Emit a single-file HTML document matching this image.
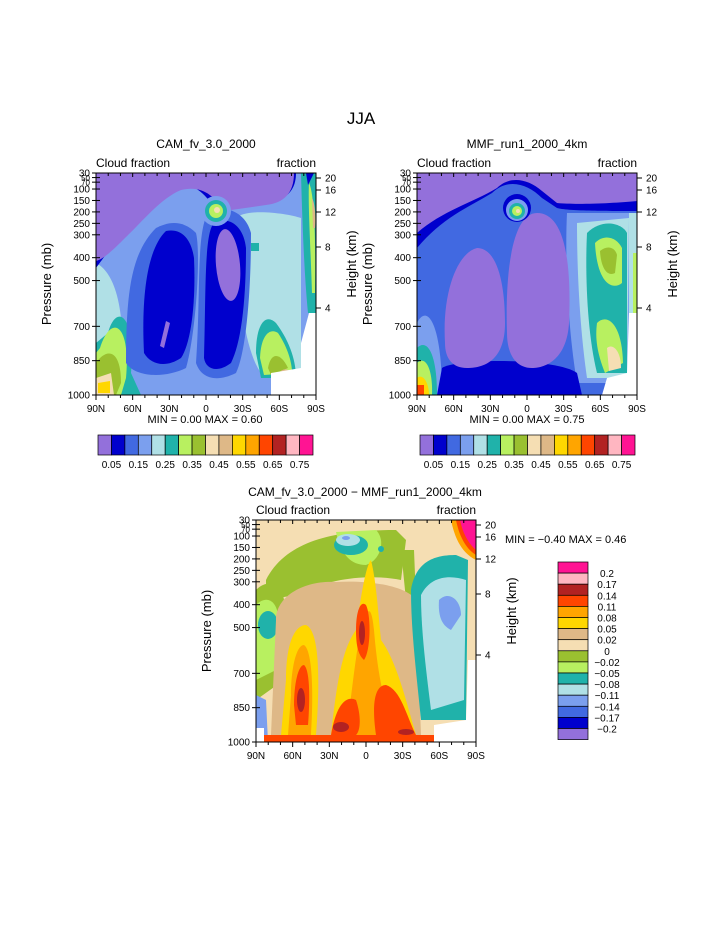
<!DOCTYPE html>
<html><head><meta charset="utf-8"><style>
body{margin:0;background:#fff}
svg{display:block}
text{font-family:"Liberation Sans",sans-serif;fill:#000}
</style></head><body>
<svg id="s" width="723" height="935" viewBox="0 0 723 935" xmlns="http://www.w3.org/2000/svg">
<text x="361" y="124" font-size="17" text-anchor="middle">JJA</text>
<text x="206" y="148" font-size="12" text-anchor="middle">CAM_fv_3.0_2000</text>
<text x="527" y="148" font-size="12" text-anchor="middle">MMF_run1_2000_4km</text>
<text x="365" y="496" font-size="12" text-anchor="middle">CAM_fv_3.0_2000 − MMF_run1_2000_4km</text>

<!-- Plot 1 -->
<g transform="translate(96,173)">
<rect width="220" height="222" fill="#7b9fee"/>
<path d="M140,45 C150,35 190,40 205,45 L205,200 L165,200 C150,180 140,120 140,45Z" fill="#b0e0e6"/>
<path d="M0,90 C20,100 30,140 25,200 L0,200Z" fill="#b0e0e6"/>
<path d="M12,160 C20,130 40,140 35,200 L45,222 L0,222 L0,170Z" fill="#20b2aa"/>
<path d="M4,175 C15,140 35,150 30,205 L25,222 L0,222 L0,180Z" fill="#b8f060"/>
<path d="M0,190 C10,175 25,175 25,210 L20,222 L0,222Z" fill="#9ac030"/>
<path d="M0,205 L15,200 L18,222 L0,222Z" fill="#f5deb3"/>
<path d="M2,210 L14,208 L14,220 L2,220Z" fill="#ffd700"/>
<path d="M160,180 C160,150 170,140 180,150 C195,170 200,190 200,205 L165,205Z" fill="#20b2aa"/>
<path d="M164,185 C165,160 175,155 182,160 C192,175 196,190 196,200 L168,202Z" fill="#b8f060"/>
<path d="M172,195 C175,178 185,180 192,195 L175,202Z" fill="#9ac030"/>
<path d="M180,205 C185,192 196,195 197,205Z" fill="#deb887"/>
<rect x="155" y="70" width="8" height="8" fill="#20b2aa"/>
<path d="M0,0 H200 C200,25 180,30 160,33 L120,38 C110,20 95,8 80,12 C60,20 40,45 25,60 C15,75 5,88 0,95Z" fill="#0000cd"/>
<path d="M30,190 C30,120 35,80 60,55 C70,50 85,45 100,60 C105,80 100,160 90,195 C70,205 40,205 30,190Z" fill="#4169e1"/>
<path d="M100,190 C105,120 100,60 112,40 C130,30 150,40 155,60 C155,120 150,180 140,200 C120,210 105,205 100,190Z" fill="#4169e1"/>
<path d="M48,180 C45,120 52,75 70,58 C85,55 95,65 98,85 C100,130 95,170 85,185 C70,195 55,192 48,180Z" fill="#0000cd"/>
<path d="M108,185 C110,120 108,60 118,50 C135,42 148,55 150,75 C150,130 145,170 135,190 C122,200 110,197 108,185Z" fill="#0000cd"/>
<path d="M0,0 H198 C198,20 188,30 170,32 L128,38 C118,22 105,12 85,17 C65,25 45,50 30,64 C18,76 8,86 0,88Z" fill="#9370db"/>
<ellipse cx="132" cy="92" rx="12" ry="36" transform="rotate(-5 132 92)" fill="#9370db"/>
<path d="M64,173 L70,148 L74,150 L68,175Z" fill="#9370db"/>
<circle cx="120" cy="38" r="15" fill="#7b9fee"/>
<circle cx="120" cy="38" r="11" fill="#20b2aa"/>
<circle cx="120" cy="38" r="7" fill="#b8f060"/>
<circle cx="121" cy="37" r="3" fill="#f5deb3"/>
<path d="M205,0 H220 V140 H212 C208,100 206,40 205,0Z" fill="#20b2aa"/>
<path d="M213,10 C218,20 220,60 219,120 L216,120 C214,60 212,30 213,10Z" fill="#b8f060"/>
<path d="M216,25 C219,30 220,45 219,55 L217,55Z" fill="#deb887"/>
<path d="M210,0 L218,0 L212,12Z" fill="#0000cd"/>
<path d="M213,140 H220 V222 H175 L175,200 L205,195 L205,170 Z" fill="#fff"/>
</g>

<!-- Plot 2 -->
<g transform="translate(417,173)">
<rect width="220" height="222" fill="#4169e1"/>
<path d="M150,40 L220,40 L220,210 L160,210 C150,150 148,80 150,40Z" fill="#7b9fee"/>
<path d="M160,50 L212,45 L210,205 L170,205 C162,150 160,90 160,50Z" fill="#b0e0e6"/>
<path d="M170,60 C185,45 205,50 210,60 L210,200 L180,200 C170,160 168,100 170,60Z" fill="#20b2aa"/>
<path d="M178,70 C188,60 200,65 205,75 L205,110 C195,118 180,110 178,70Z" fill="#b8f060"/>
<path d="M183,78 C190,72 198,74 200,82 L198,100 C190,104 184,95 183,78Z" fill="#9ac030"/>
<path d="M180,150 C190,140 205,150 206,190 L188,200 C180,180 178,165 180,150Z" fill="#b8f060"/>
<path d="M190,175 C196,170 204,178 204,195 L192,198Z" fill="#f5deb3"/>
<path d="M0,150 C10,130 25,150 25,222 L0,222Z" fill="#7b9fee"/>
<path d="M0,175 C10,165 20,180 20,222 L0,222Z" fill="#20b2aa"/>
<path d="M0,190 C8,182 16,195 15,222 L0,222Z" fill="#b8f060"/>
<path d="M0,205 C6,200 12,210 12,222 L0,222Z" fill="#ffd700"/>
<path d="M0,212 L7,212 L7,222 L0,222Z" fill="#ff4500"/>
<path d="M0,0 H220 V38 C190,38 150,38 140,35 L125,25 C110,10 90,5 75,20 C50,35 25,45 0,75Z" fill="#0000cd"/>
<path d="M25,195 C40,185 140,185 160,200 L165,222 L20,222Z" fill="#0000cd"/>
<path d="M28,170 C25,120 40,80 60,75 C80,75 88,110 88,150 C88,185 70,195 50,195 C35,195 28,185 28,170Z" fill="#9370db"/>
<path d="M90,160 C88,100 95,40 120,40 C145,40 155,80 152,150 C150,185 130,195 115,195 C98,195 90,180 90,160Z" fill="#9370db"/>
<path d="M0,0 H220 V28 C200,30 160,32 140,30 L125,18 C110,5 92,3 80,15 C55,30 25,38 0,60Z" fill="#9370db"/>
<circle cx="100" cy="35" r="14" fill="#0000cd"/>
<circle cx="100" cy="37" r="11" fill="#7b9fee"/>
<circle cx="100" cy="38" r="8" fill="#20b2aa"/>
<circle cx="100" cy="38" r="5" fill="#b8f060"/>
<circle cx="101" cy="38" r="2" fill="#f5deb3"/>
<path d="M212,40 L220,40 L220,222 L212,222Z" fill="#b0e0e6"/>
<path d="M216,80 L220,80 L220,150 L216,150Z" fill="#b8f060"/>
<path d="M190,205 L210,200 L212,140 L220,140 L220,222 L185,222Z" fill="#fff"/>
</g>

<!-- Plot 3 -->
<g transform="translate(256,520)">
<rect width="220" height="222" fill="#f5deb3"/>
<path d="M10,60 C30,20 80,10 140,10 L150,20 L145,60 C120,55 80,55 40,75 L10,80Z" fill="#9ac030"/>
<path d="M80,12 L120,10 C130,20 125,40 110,45 C95,45 85,35 80,12Z" fill="#b8f060"/>
<ellipse cx="95" cy="25" rx="17" ry="10" fill="#20b2aa"/>
<ellipse cx="92" cy="20" rx="12" ry="6" fill="#b0e0e6"/>
<ellipse cx="90" cy="18" rx="4" ry="2" fill="#7b9fee"/>
<circle cx="125" cy="29" r="3" fill="#20b2aa"/>
<path d="M145,30 L158,30 L160,80 L150,80Z" fill="#9ac030"/>
<path d="M0,70 C10,60 25,60 28,80 L28,160 L0,180Z" fill="#9ac030"/>
<path d="M0,85 C10,75 20,80 22,95 L20,150 L0,160Z" fill="#b8f060"/>
<ellipse cx="12" cy="105" rx="10" ry="14" fill="#20b2aa"/>
<path d="M0,175 L10,180 L12,222 L0,222Z" fill="#7b9fee"/>
<path d="M20,100 C20,75 50,60 80,62 C110,60 150,65 160,80 L165,215 L15,215Z" fill="#deb887"/>
<path d="M30,160 C30,120 40,105 50,105 C62,110 65,150 60,215 L25,215Z" fill="#ffd700"/>
<path d="M35,175 C35,150 40,125 48,125 C56,130 58,170 55,215 L32,215Z" fill="#ffa500"/>
<path d="M38,185 C38,165 42,145 48,145 C54,150 54,180 52,205 L40,205Z" fill="#ff4500"/>
<ellipse cx="45" cy="180" rx="4" ry="12" fill="#b22222"/>
<path d="M75,215 C80,170 85,130 100,110 C105,75 110,45 115,40 C120,60 122,90 125,120 C140,140 150,180 160,215Z" fill="#ffd700"/>
<path d="M90,215 C95,180 100,130 105,110 C110,90 115,80 118,110 C122,160 130,190 140,215Z" fill="#ffa500"/>
<path d="M100,110 C100,90 105,80 110,85 C115,95 115,130 108,140 C102,135 100,125 100,110Z" fill="#ff4500"/>
<ellipse cx="106" cy="113" rx="3" ry="12" fill="#b22222"/>
<path d="M75,215 C80,185 90,175 100,180 C105,195 105,210 100,215Z" fill="#ff4500"/>
<path d="M120,215 C115,180 120,165 130,165 C145,170 150,195 160,215Z" fill="#ff4500"/>
<ellipse cx="85" cy="207" rx="8" ry="5" fill="#b22222"/>
<ellipse cx="150" cy="212" rx="8" ry="3" fill="#b22222"/>
<path d="M0,215 H180 V222 H0Z" fill="#ff4500"/>
<path d="M155,70 C160,40 180,35 200,35 L212,40 L210,200 L165,200 C160,150 155,110 155,70Z" fill="#20b2aa"/>
<path d="M165,75 C175,55 195,55 210,60 L208,180 L175,190 C170,150 165,110 165,75Z" fill="#b0e0e6"/>
<path d="M183,80 C193,70 205,80 205,95 L195,110 C185,105 182,95 183,80Z" fill="#7b9fee"/>
<path d="M195,0 H220 V40 C210,35 200,25 195,0Z" fill="#ffa500"/>
<path d="M200,0 H220 V35 C212,30 204,20 200,0Z" fill="#ff4500"/>
<path d="M204,0 H220 V30 C214,25 207,15 204,0Z" fill="#ff1493"/>
<path d="M0,208 L8,208 L8,222 L0,222Z" fill="#fff"/>
<path d="M178,205 L210,200 L212,140 L220,140 L220,222 L178,222Z" fill="#fff"/>
</g>

<g id="axes"></g>
<text x="205" y="423" font-size="11" text-anchor="middle">MIN =   0.00  MAX =   0.60</text>
<text x="527" y="423" font-size="11" text-anchor="middle">MIN =   0.00  MAX =   0.75</text>
<text x="505" y="543" font-size="11">MIN =  −0.40   MAX =   0.46</text>
<g id="cb"></g>
</svg>
<script>
var NS="http://www.w3.org/2000/svg",ax=document.getElementById("axes"),cb=document.getElementById("cb");
function el(t,a,txt,p){var e=document.createElementNS(NS,t);for(var k in a)e.setAttribute(k,a[k]);if(txt!=null)e.textContent=txt;(p||ax).appendChild(e);return e;}
function plot(x0,y0){
 var W=220,H=222;
 el("rect",{x:x0,y:y0,width:W,height:H,fill:"none",stroke:"#000","stroke-width":1});
 el("text",{x:x0,y:y0-6,"font-size":12},"Cloud fraction");
 el("text",{x:x0+W,y:y0-6,"font-size":12,"text-anchor":"end"},"fraction");
 var ps=[30,50,70,100,150,200,250,300,400,500,700,850,1000];
 ps.forEach(function(p){var y=y0+(p-30)/970*H;
  el("line",{x1:x0-4,x2:x0,y1:y,y2:y,stroke:"#000"});
  el("line",{x1:x0,x2:x0+4,y1:y,y2:y,stroke:"#000"});
  el("text",{x:x0-6,y:y+3.5,"font-size":(p==50||p==70)?8:10,"text-anchor":"end"},String(p));});
 [[20,5],[16,17],[12,39],[8,74],[4,135]].forEach(function(h){var y=y0+h[1];
  el("line",{x1:x0+W,x2:x0+W+5,y1:y,y2:y,stroke:"#000"});
  el("text",{x:x0+W+9,y:y+3.5,"font-size":10},String(h[0]));});
 ["90N","60N","30N","0","30S","60S","90S"].forEach(function(l,i){var x=x0+i*W/6;
  el("line",{x1:x,x2:x,y1:y0+H,y2:y0+H+5,stroke:"#000"});
  el("line",{x1:x,x2:x,y1:y0,y2:y0+4,stroke:"#000"});
  el("text",{x:x,y:y0+H+17,"font-size":10,"text-anchor":"middle"},l);});
 for(var i=1;i<18;i++){if(i%3){var x=x0+i*W/18;el("line",{x1:x,x2:x,y1:y0+H,y2:y0+H+3,stroke:"#000"});el("line",{x1:x,x2:x,y1:y0,y2:y0+3,stroke:"#000"});}}
 el("text",{x:0,y:0,"font-size":13,"text-anchor":"middle",transform:"translate("+(x0-45)+","+(y0+H/2)+") rotate(-90)"},"Pressure (mb)");
 el("text",{x:0,y:0,"font-size":13,"text-anchor":"middle",transform:"translate("+(x0+W+40)+","+(y0+H/2-20)+") rotate(-90)"},"Height (km)");
}
plot(96,173);plot(417,173);plot(256,520);
var C=["#9370db","#0000cd","#4169e1","#7b9fee","#b0e0e6","#20b2aa","#b8f060","#9ac030","#f5deb3","#deb887","#ffd700","#ffa500","#ff4500","#b22222","#ffb6c1","#ff1493"];
[98,420].forEach(function(x0){var w=215/16;
 C.forEach(function(c,i){el("rect",{x:x0+i*w,y:435,width:w,height:20,fill:c,stroke:"#000","stroke-width":0.7},null,cb);});
 ["0.05","0.15","0.25","0.35","0.45","0.55","0.65","0.75"].forEach(function(l,i){el("text",{x:x0+(2*i+1)*w,y:468,"font-size":10,"text-anchor":"middle"},l,cb);});
});
var C2=["#ff1493","#ffb6c1","#b22222","#ff4500","#ffa500","#ffd700","#deb887","#f5deb3","#9ac030","#b8f060","#20b2aa","#b0e0e6","#7b9fee","#4169e1","#0000cd","#9370db"];
var L2=["0.2","0.17","0.14","0.11","0.08","0.05","0.02","0","−0.02","−0.05","−0.08","−0.11","−0.14","−0.17","−0.2"];
C2.forEach(function(c,i){el("rect",{x:558,y:562+i*11.1,width:30,height:11.1,fill:c,stroke:"#000","stroke-width":0.7},null,cb);});
L2.forEach(function(l,i){el("text",{x:607,y:562+(i+1)*11.1+4,"font-size":10,"text-anchor":"middle"},l,cb);});
</script>
</body></html>
